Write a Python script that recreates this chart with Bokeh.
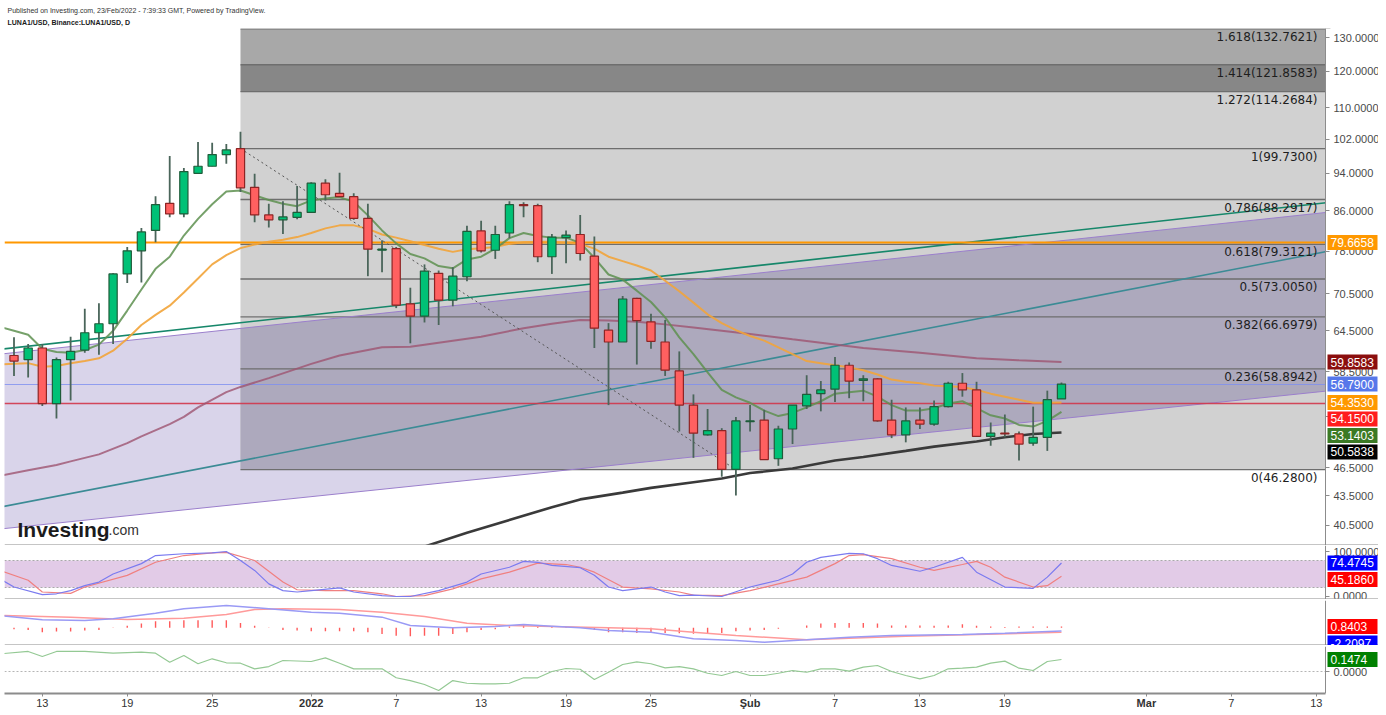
import math
import numpy as np
from bokeh.plotting import figure
from bokeh.layouts import column
from bokeh.models import (ColumnDataSource, Range1d, FixedTicker, PrintfTickFormatter,
                          CustomJSTickFormatter, LinearAxis, LogAxis, Span, Label, Title)
from bokeh.core.properties import value
from bokeh.embed import file_html
from bokeh.resources import INLINE

# ------------------------------------------------------------------ data
# x values are day numbers counted from 10 Dec 2021 (= 0)
candle_day = list(range(1, 76))          # 11 Dec 2021 ... 23 Feb 2022
candle_open = [60.8, 60.2, 61.9, 54.2, 60.2, 61.6, 64.2, 65.6, 73.9, 78.1,
               82.0, 87.5, 85.3, 94.0, 95.6, 98.3, 99.7, 90.9, 85.1, 84.1,
               84.6, 85.6, 91.8, 89.6, 88.9, 84.4, 78.2, 78.5, 68.8, 66.8,
               74.0, 69.4, 73.4, 81.9, 78.2, 81.5, 87.2, 87.0, 77.0, 80.6,
               81.2, 77.1, 64.6, 62.8, 69.7, 65.9, 62.8, 58.6, 54.0, 50.3,
               50.8, 46.3, 51.9, 52.1, 47.5, 51.0, 53.9, 55.5, 56.1, 59.4,
               57.3, 57.5, 52.1, 50.3, 52.1, 51.6, 53.8, 56.9, 56.0, 50.1,
               50.5, 50.4, 49.3, 50.0, 54.8]
candle_high = [63.5, 62.5, 62.5, 60.5, 63.6, 68.0, 68.9, 74.0, 78.8, 82.5,
               89.0, 98.0, 95.2, 101.3, 101.1, 100.8, 103.8, 93.9, 87.4, 87.9,
               91.2, 92.0, 92.7, 94.1, 89.6, 87.4, 80.1, 78.8, 71.5, 75.6,
               74.5, 75.1, 82.9, 83.9, 82.9, 87.9, 87.7, 87.4, 81.3, 82.0,
               85.1, 80.8, 65.7, 70.1, 69.8, 67.2, 66.2, 61.4, 55.4, 53.5,
               51.1, 52.5, 54.0, 53.4, 51.4, 54.0, 58.0, 57.2, 60.6, 59.8,
               58.0, 57.6, 54.7, 53.7, 53.7, 54.6, 57.1, 58.3, 57.1, 51.8,
               52.8, 50.7, 53.8, 55.9, 57.0]
candle_low = [57.9, 57.7, 53.9, 52.3, 54.6, 61.2, 60.9, 62.5, 72.3, 72.4,
              79.7, 84.6, 84.6, 94.0, 95.6, 96.2, 89.9, 83.6, 82.6, 81.3,
              84.2, 85.6, 88.1, 88.8, 84.1, 73.5, 74.2, 68.1, 62.6, 65.8,
              65.4, 68.4, 72.6, 77.8, 76.6, 80.5, 84.6, 76.0, 73.9, 75.8,
              76.3, 61.9, 54.0, 62.8, 59.5, 61.8, 57.9, 50.7, 47.6, 50.2,
              45.5, 43.5, 50.7, 47.4, 46.7, 49.2, 53.5, 53.2, 54.4, 54.9,
              54.5, 51.9, 49.9, 49.4, 51.0, 51.4, 53.7, 55.1, 50.1, 49.0,
              50.0, 47.3, 49.0, 48.4, 54.8]
candle_close = [60.0, 61.9, 54.2, 60.2, 61.4, 64.2, 65.6, 73.9, 78.1, 81.7,
                87.2, 85.3, 94.4, 95.6, 98.3, 99.4, 90.8, 85.1, 84.1, 84.7,
                85.6, 91.8, 89.3, 88.9, 84.4, 78.4, 78.4, 68.6, 66.8, 74.4,
                69.4, 73.5, 81.8, 78.1, 81.2, 87.2, 87.0, 77.0, 80.7, 81.1,
                77.6, 64.9, 62.8, 69.6, 66.1, 62.9, 58.7, 54.0, 50.5, 50.8,
                46.3, 52.0, 52.0, 47.4, 51.0, 54.0, 55.4, 56.0, 59.4, 57.2,
                57.5, 52.0, 50.3, 52.0, 51.6, 53.8, 56.9, 56.0, 50.1, 50.5,
                50.4, 49.2, 50.0, 54.7, 56.79]

# moving averages
ma_fast_day = list(range(0, 76))
ma_fast = [65.1, 64.5, 63.9, 61.8, 61.3, 61.2, 61.6, 62.4, 64.5, 67.7,
           71.2, 74.8, 77.0, 81.0, 84.3, 87.3, 90.0, 90.2, 89.2, 88.2,
           87.4, 86.9, 88.1, 88.5, 88.8, 87.8, 85.0, 82.0, 79.5, 77.5,
           76.7, 75.3, 74.9, 76.5, 77.0, 78.5, 80.5, 81.5, 80.9, 80.6,
           80.6, 79.6, 76.8, 73.8, 72.9, 71.0, 69.1, 66.6, 63.5, 61.0,
           58.4, 56.0, 55.0, 54.3, 53.3, 52.6, 53.0, 53.7, 54.5, 55.5,
           55.7, 55.9, 55.1, 54.0, 53.3, 53.3, 53.6, 54.2, 54.5, 53.6,
           52.7, 52.3, 51.5, 51.3, 52.0, 53.1403]
ma_mid_day = list(range(0, 76))
ma_mid = [59.5, 59.6, 59.7, 59.2, 59.3, 59.7, 60.0, 60.4, 61.5, 63.3,
          65.4, 67.0, 68.5, 70.7, 73.1, 75.6, 77.3, 78.6, 79.3, 79.8,
          80.2, 80.7, 81.5, 82.4, 83.0, 83.0, 82.3, 81.2, 80.6, 79.9,
          79.2, 78.5, 77.9, 78.4, 78.6, 78.8, 79.4, 79.7, 79.8, 79.8,
          79.6, 79.4, 78.5, 77.0, 76.2, 75.4, 74.5, 72.7, 70.9, 69.0,
          67.1, 65.7, 64.6, 63.7, 63.0, 62.0, 61.0, 60.0, 59.7, 59.4,
          59.1, 58.7, 58.1, 57.4, 57.1, 56.9, 56.6, 56.5, 56.4, 56.0,
          55.5, 55.1, 54.7, 54.3, 54.3, 54.353]
ma_slow_day = [0, 2, 4, 5, 7, 9, 10, 12, 13, 14, 16, 17, 19, 22, 24, 27, 29, 31, 34,
               37, 39, 41, 43, 45, 47, 49, 51, 53, 56, 61, 65, 69, 72, 75]
ma_slow = [45.6, 46.2, 46.8, 47.2, 48.0, 49.3, 50.1, 51.6, 52.5, 53.7, 55.7, 56.4, 57.6,
           59.6, 60.8, 62.0, 62.1, 62.7, 63.6, 64.9, 65.6, 66.2, 66.1, 65.9, 65.5, 65.0,
           64.5, 64.0, 63.2, 61.9, 61.2, 60.4, 60.1, 59.8583]
ma_long_day = [30, 33, 39, 41, 44, 46, 49, 51, 53, 56, 59, 61, 64, 66, 69, 71, 73, 75]
ma_long = [38.5, 39.8, 42.3, 43.1, 43.8, 44.3, 44.9, 45.3, 45.9, 46.4, 47.3, 47.7,
           48.4, 48.9, 49.5, 50.0, 50.4, 50.5838]

# Fibonacci retracement (27 Dec high -> 31 Jan low)
fib_start_day = 17
fib_low_day = 52
fib_ratio = [0, 0.236, 0.382, 0.5, 0.618, 0.786, 1, 1.272, 1.414, 1.618]
fib_price = [46.28, 58.8942, 66.6979, 73.005, 79.3121, 88.2917, 99.73,
             114.2684, 121.8583, 132.7621]

# drawn trend lines (value at day 0 and day 94)
line_day = [0, 94]
channel_upper = [61.0, 85.7]
channel_lower = [40.15, 55.9]
trend_green = [61.7, 87.7]
trend_teal = [42.3, 78.1]

# horizontal levels
level_orange = 79.6658
level_last = 56.79
level_red = 54.15

# right-scale value tags
main_tag_value = [79.6658, 59.8583, 56.79, 54.353, 54.15, 53.1403, 50.5838]
main_tag_color = ["#ff9800", "#8b0e0e", "#5677ea", "#ff9800", "#ff1d1d", "#3b7a24", "#000000"]

# Stochastic RSI
stoch_k_day = [0, 1, 3, 4, 5, 6, 7, 8, 10, 11, 13, 15, 16, 17, 18, 19, 20, 21, 22, 24, 25,
               27, 28, 29, 31, 33, 34, 36, 37, 38, 39, 41, 42, 43, 44, 46, 47, 48, 49, 51,
               53, 55, 56, 57, 58, 60, 61, 62, 63, 65, 66, 68, 69, 71, 73, 74, 75]
stoch_k = [39, 21, 4, 6, 13, 24, 32, 50, 73, 91, 95, 97, 100, 80, 58, 28, 13, 10, 13, 19, 10,
           2, 0, 0, 13, 32, 50, 65, 78, 76, 69, 64, 47, 21, 13, 21, 10, 2, 3, 0,
           21, 36, 50, 76, 87, 96, 95, 84, 69, 56, 65, 87, 54, 21, 18, 43, 74.4745]
stoch_d_day = [0, 2, 3, 5, 6, 9, 11, 13, 15, 16, 18, 20, 21, 23, 25, 27, 28, 30, 32, 34, 36,
               38, 40, 41, 42, 44, 46, 48, 49, 51, 53, 55, 57, 59, 60, 61, 63, 65, 66, 68,
               69, 70, 71, 73, 74, 75]
stoch_d = [58, 36, 10, 7, 21, 47, 76, 91, 97, 98, 80, 32, 15, 13, 13, 6, 0, 2, 17, 39, 54,
           74, 71, 65, 54, 21, 17, 10, 3, 2, 13, 28, 43, 73, 91, 93, 84, 65, 58, 71,
           78, 65, 43, 21, 24, 45.186]
stoch_band = [20, 80]
stoch_ticks = [0, 100]
stoch_tag_value = [74.4745, 45.186]
stoch_tag_color = ["#0000ff", "#ff0000"]

# MACD
macd_day = [0, 3, 6, 8, 11, 13, 16, 19, 22, 24, 27, 29, 32, 35, 37, 39, 41, 43, 46, 49,
            52, 54, 57, 60, 63, 68, 71, 75]
macd_line = [8.2, 5.3, 4.9, 6.0, 9.7, 12.7, 14.9, 12.7, 10.4, 9.7, 7.1, 1.5, 0.0, 0.9, 2.2,
             1.1, 0.0, -1.8, -2.9, -7.3, -8.5, -9.6, -8.0, -6.3, -5.1, -4.5, -3.6, -2.2097]
signal_day = [0, 5, 9, 13, 16, 18, 20, 24, 27, 30, 33, 36, 39, 43, 46, 49, 52, 57, 60, 64,
              69, 75]
signal_line = [8.2, 7.1, 5.5, 6.4, 8.9, 12.2, 12.7, 12.2, 10.4, 7.5, 3.1, 1.5, 0.9, 0.0,
               -0.7, -2.9, -5.1, -8.0, -6.9, -5.6, -4.5, -3.05]
macd_hist = [-0.9, -1.4, -3.0, -2.5, -2.5, -1.8, -1.4, -0.2, 1.4, 2.8,
             4.4, 4.4, 5.1, 5.1, 5.1, 5.1, 3.2, 1.4, 0.2, -1.4,
             -1.8, -2.3, -2.3, -2.3, -2.3, -3.0, -4.1, -5.3, -5.7, -5.3,
             -5.3, -4.1, -3.0, -1.4, -0.9, 0.9, 1.6, 0.9, 0.9, 0.5,
             0.5, -1.4, -3.0, -3.0, -3.4, -3.4, -3.4, -3.7, -3.9, -4.1,
             -3.4, -2.3, -1.8, -1.4, -0.7, 0.1, 1.6, 2.8, 3.2, 3.2,
             3.2, 2.8, 1.6, 1.6, 1.6, 1.4, 1.6, 2.3, 1.4, 0.9,
             0.5, 0.9, 0.9, 0.9, 0.8403]
macd_tag_value = [0.8403, -2.2097]
macd_tag_color = ["#ff0000", "#0000ff"]

# money-flow style oscillator
osc_day = [0, 2, 3, 4, 6, 8, 10, 11, 12, 13, 14, 15, 16, 17, 18, 19, 20, 22, 23, 24, 25,
           27, 28, 29, 30, 31, 32, 33, 34, 35, 36, 37, 38, 39, 40, 41, 42, 43, 44, 45,
           46, 47, 48, 49, 50, 51, 52, 53, 54, 55, 56, 57, 58, 59, 60, 61, 62, 63, 64,
           65, 66, 67, 68, 69, 70, 71, 72, 73, 74, 75]
osc = [0.217, 0.246, 0.184, 0.246, 0.246, 0.225, 0.237, 0.225, 0.114, 0.197, 0.095,
       0.156, 0.107, 0.102, 0.033, 0.061, 0.135, 0.123, 0.168, 0.102, 0.033,
       0.033, -0.077, -0.111, -0.160, -0.233, -0.111, -0.144, -0.151, -0.151, -0.144,
       -0.077, -0.077, 0.0, 0.037, 0.028, -0.098, -0.009, 0.086, 0.119,
       0.095, 0.045, 0.061, 0.033, -0.021, -0.049, 0.0, -0.049, -0.049, -0.021,
       0.012, -0.009, 0.033, 0.033, 0.004, 0.053, 0.074, 0.0, -0.049,
       -0.090, -0.049, 0.033, 0.041, 0.053, 0.102, 0.127, 0.041, 0.012, 0.123, 0.1474]
osc_ticks = [0]
osc_tag_value = [0.1474]
osc_tag_color = ["#008000"]

# axis ticks
main_ticks = [40.5, 43.5, 46.5, 52.5, 58.5, 64.5, 70.5, 78, 86, 94, 102, 110, 120, 130]
date_tick_day = [3, 9, 15, 22, 28, 34, 40, 46, 53, 59, 65, 71, 81, 87, 93]
date_tick_label = ["13", "19", "25", "2022", "7", "13", "19", "25", "Şub", "7",
                   "13", "19", "Mar", "7", "13"]
date_tick_bold = [False, False, False, True, False, False, False, False, True, False,
                  False, False, True, False, False]

# ------------------------------------------------------------------ layout
LEFT = 4
FRAME_W = 1374                 # plotting frame incl. the price-scale strip
PX_PER_DAY = 14.155
X0 = 0.3285
XE = X0 + FRAME_W / PX_PER_DAY
SCALE_PX = 1325                # x pixel of the price-scale line


def px_to_x(px):
    return X0 + (px - LEFT) / PX_PER_DAY


X1 = px_to_x(SCALE_PX)
H_MAIN, H_STOCH, H_MACD, H_OSC = 517, 54, 45, 47
Y_MAIN = (38.6, 132.9)
Y_STOCH = (-6.7, 113.3)
Y_MACD = (-11.8, 18.2)
Y_OSC = (-0.270, 0.307)

AX_FONT = "Liberation Sans"
SEP = "#8c8c8c"
LABEL_W = {"main": 46, "stoch": 46, "osc": 34}

xr = Range1d(X0, XE)


def make_fig(h, yr, ticks, label_w, log=False, xaxis=False, title=None):
    f = figure(frame_width=FRAME_W, frame_height=h, x_range=xr,
               y_range=Range1d(*yr), y_axis_type="log" if log else "linear",
               y_axis_location=None, x_axis_location="below" if xaxis else None,
               toolbar_location=None, output_backend="svg", title=title,
               min_border_left=LEFT, min_border_right=0, min_border_top=0,
               min_border_bottom=0)
    f.outline_line_color = None
    f.grid.visible = False
    f.background_fill_color = "white"
    f.border_fill_color = "white"
    Ax = LogAxis if log else LinearAxis
    # price-scale line with outward ticks
    f.add_layout(Ax(fixed_location=X1, ticker=FixedTicker(ticks=ticks),
                    formatter=CustomJSTickFormatter(code="return ''"),
                    axis_line_color=SEP, axis_line_width=1, major_tick_line_color=SEP,
                    major_tick_out=4, major_tick_in=0, minor_tick_line_color=None,
                    major_label_standoff=0), "right")
    # price-scale labels
    if ticks:
        s = -(label_w - 3)
        f.add_layout(Ax(fixed_location=px_to_x(1333 - s), ticker=FixedTicker(ticks=ticks),
                        formatter=PrintfTickFormatter(format="%.4f"),
                        axis_line_color=None, major_tick_line_color=None,
                        major_tick_out=0, major_tick_in=0, minor_tick_line_color=None,
                        major_label_standoff=s, major_label_text_font=AX_FONT,
                        major_label_text_font_size="11px",
                        major_label_text_color="#4a4a4a"), "right")
    return f


def tag_positions(vals, yr, frame_h, log, gap_px=16.5):
    t = math.log if log else (lambda v: v)
    inv = math.exp if log else (lambda u: u)
    per_px = (t(yr[1]) - t(yr[0])) / frame_h
    order = sorted(range(len(vals)), key=lambda i: -vals[i])
    pos = [None] * len(vals)
    prev = None
    for i in order:
        u = t(vals[i])
        if prev is not None and u > prev - gap_px * per_px:
            u = prev - gap_px * per_px
        pos[i] = inv(u)
        prev = u
    return pos


def finish(f, vals, colors, yr, frame_h, log, separator=True):
    # blank price-scale strip, then value tags on top
    f.vstrip(x0=[X1], x1=[XE], fill_color="white", line_color=None)
    pos = tag_positions(vals, yr, frame_h, log)
    n = len(vals)
    f.rect(x=[px_to_x(1352)] * n, y=pos, width=50, height=15, width_units="screen",
           height_units="screen", fill_color=colors, line_color=None, level="overlay")
    f.text(x=[px_to_x(1330)] * n, y=pos, text=["%.4f" % v for v in vals],
           text_color="white", text_font=value(AX_FONT), text_font_size=value("12px"),
           text_baseline="middle", text_align="left", level="overlay")
    if separator:
        f.add_layout(Span(location=yr[0], dimension="width", line_color=SEP, line_width=2))


# ---------------- main pane
p = make_fig(H_MAIN, Y_MAIN, main_ticks, LABEL_W["main"], log=True,
             title="Published on Investing.com, 23/Feb/2022 - 7:39:33 GMT, Powered by TradingView.")
p.title.text_font = AX_FONT
p.title.text_font_size = "7px"
p.title.text_font_style = "normal"
p.title.text_color = "#333333"
p.title.align = "left"
p.title.offset = 3
p.title.standoff = 2
p.add_layout(Title(text="LUNA1/USD, Binance:LUNA1/USD, D", text_font=AX_FONT,
                   text_font_size="7px", text_font_style="bold", text_color="#1a1a1a",
                   align="left", offset=3, standoff=5), "above")
p.min_border_top = 28

# channel (lavender)
p.patch([line_day[0], line_day[1], line_day[1], line_day[0]],
        [channel_upper[0], channel_upper[1], channel_lower[1], channel_lower[0]],
        fill_color="#d9d4ea", line_color=None)

# fib bands
band_col = ["#d1d1d1"] * 7 + ["#878787", "#a8a8a8"]
p.quad(left=[fib_start_day] * 9, right=[line_day[1]] * 9, bottom=fib_price[:-1],
       top=fib_price[1:], fill_color=band_col, line_color=None)

# overlap of channel and retracement area
xs = np.linspace(fib_start_day, line_day[1], 600)
lu = np.interp(xs, line_day, np.log(channel_upper))
ll = np.interp(xs, line_day, np.log(channel_lower))
top = np.minimum(np.exp(lu), fib_price[7])
bot = np.maximum(np.exp(ll), fib_price[0])
p.patch(list(xs) + list(xs[::-1]), list(top) + list(bot[::-1]),
        fill_color="#ada9bd", line_color=None)

# fib level lines
p.segment(x0=[fib_start_day] * 10, x1=[line_day[1]] * 10, y0=fib_price, y1=fib_price,
          line_color="#6e6e6e", line_width=1.3)

# channel + trend lines
p.line(line_day, channel_upper, line_color="#9b7fcc", line_width=1)
p.line(line_day, channel_lower, line_color="#9b7fcc", line_width=1)
p.line(line_day, trend_green, line_color="#16876a", line_width=1.6)
p.line(line_day, trend_teal, line_color="#3b8b95", line_width=1.6)

# horizontal levels
p.hspan(y=[level_orange], line_color="#ff9800", line_width=2)
p.hspan(y=[level_last], line_color="#7d8ff0", line_width=1, line_alpha=0.8)
p.hspan(y=[level_red], line_color="#d2364a", line_width=1.6, line_alpha=0.9)

# moving averages
p.line(ma_slow_day, ma_slow, line_color="#9d5470", line_width=2, line_alpha=0.8)
p.line(ma_mid_day, ma_mid, line_color="#f2a43a", line_width=2, line_alpha=0.9)
p.line(ma_fast_day, ma_fast, line_color="#5e9150", line_width=2, line_alpha=0.85)
p.line(ma_long_day, ma_long, line_color="#3a3a3a", line_width=2.6)

# retracement diagonal
p.line([fib_start_day, fib_low_day], [fib_price[6], fib_price[0]],
       line_color="#555555", line_width=1, line_dash="2 3")

# candles
o = np.array(candle_open)
c = np.array(candle_close)
up = c >= o
src = ColumnDataSource(dict(
    x=candle_day, hi=candle_high, lo=candle_low,
    top=np.maximum(o, c), bot=np.minimum(o, c),
    fill=np.where(up, "#00c176", "#ff6060"),
    edge=np.where(up, "#1f5c3a", "#8e2424"),
))
p.segment(x0="x", x1="x", y0="lo", y1="hi", source=src, line_color="#4a655a", line_width=1.8)
p.vbar(x="x", top="top", bottom="bot", width=0.58, source=src,
       fill_color="fill", line_color="edge", line_width=1.2)

# fib labels
fib_text = ["%s(%.4f)" % (("%g" % r), v) for r, v in zip(fib_ratio, fib_price)]
p.text(x=[px_to_x(1317)] * 10, y=fib_price, text=fib_text,
       text_font=value("DejaVu Sans"), text_font_size=value("12px"),
       text_color="#1e1e1e", text_align="right", text_baseline="middle", y_offset=8)

# watermark
logo_y = math.exp(math.log(Y_MAIN[1]) - (529 - 28) / H_MAIN * math.log(Y_MAIN[1] / Y_MAIN[0]))
p.add_layout(Label(x=px_to_x(17), y=logo_y, text="Investing", text_font=AX_FONT,
                   text_font_size="21px", text_font_style="bold", text_color="#1b1b1b",
                   text_baseline="alphabetic"))
p.add_layout(Label(x=px_to_x(108), y=logo_y, text=".com", text_font=AX_FONT,
                   text_font_size="14px", text_color="#333333", text_baseline="alphabetic"))

finish(p, main_tag_value, main_tag_color, Y_MAIN, H_MAIN, True)

# ---------------- stochastic RSI
p2 = make_fig(H_STOCH, Y_STOCH, stoch_ticks, LABEL_W["stoch"])
p2.hstrip(y0=[stoch_band[0]], y1=[stoch_band[1]], fill_color="#e2cbe7", line_color=None)
p2.hspan(y=stoch_band, line_color="#a9a9a9", line_width=1, line_dash="2 2")
p2.line(stoch_d_day, stoch_d, line_color="#f08080", line_width=1.2)
p2.line(stoch_k_day, stoch_k, line_color="#7b7bf0", line_width=1.2)
finish(p2, stoch_tag_value, stoch_tag_color, Y_STOCH, H_STOCH, False)

# ---------------- MACD
p3 = make_fig(H_MACD, Y_MACD, [], 0)
p3.min_border_top = 1
p3.segment(x0=candle_day, x1=candle_day, y0=[0] * len(macd_hist), y1=macd_hist,
           line_color="#ff5a5a", line_width=1.4)
p3.line(signal_day, signal_line, line_color="#ff9a9a", line_width=1.5)
p3.line(macd_day, macd_line, line_color="#9a9af5", line_width=1.5)
finish(p3, macd_tag_value, macd_tag_color, Y_MACD, H_MACD, False)

# ---------------- oscillator + date axis
p4 = make_fig(H_OSC, Y_OSC, osc_ticks, LABEL_W["osc"], xaxis=True)
p4.min_border_top = 1
p4.hspan(y=[0], line_color="#b5b5b5", line_width=1, line_dash="2 2")
p4.line(osc_day, osc, line_color="#94c994", line_width=1.2)
finish(p4, osc_tag_value, osc_tag_color, Y_OSC, H_OSC, False, separator=False)

TICK_OUT, STANDOFF, LABEL_H = 3, 2, 13
xa = p4.xaxis[0]
xa.ticker = FixedTicker(ticks=date_tick_day)
xa.major_label_overrides = {d: ("" if b else t)
                            for d, t, b in zip(date_tick_day, date_tick_label, date_tick_bold)}
xa.bounds = (X0, X1)
xa.axis_line_color = SEP
xa.axis_line_width = 2
xa.major_tick_line_color = SEP
xa.major_tick_out = TICK_OUT
xa.major_tick_in = 0
xa.minor_tick_line_color = None
xa.major_label_text_font = AX_FONT
xa.major_label_text_font_size = "11px"
xa.major_label_text_color = "#333333"
xa.major_label_standoff = STANDOFF

# bold period labels (year / month starts): second date axis pulled up onto the first
bold_days = [d for d, b in zip(date_tick_day, date_tick_bold) if b]
p4.add_layout(LinearAxis(ticker=FixedTicker(ticks=bold_days),
                         major_label_overrides={d: t for d, t, b in zip(date_tick_day, date_tick_label, date_tick_bold) if b},
                         axis_line_color=None, major_tick_line_color=None,
                         major_tick_out=0, major_tick_in=0, minor_tick_line_color=None,
                         major_label_standoff=-LABEL_H,
                         major_label_text_font=AX_FONT,
                         major_label_text_font_size="11px", major_label_text_font_style="bold",
                         major_label_text_color="#333333"), "below")

layout = column(p, p2, p3, p4, spacing=0)
open("out.html", "w").write(file_html(layout, INLINE))
